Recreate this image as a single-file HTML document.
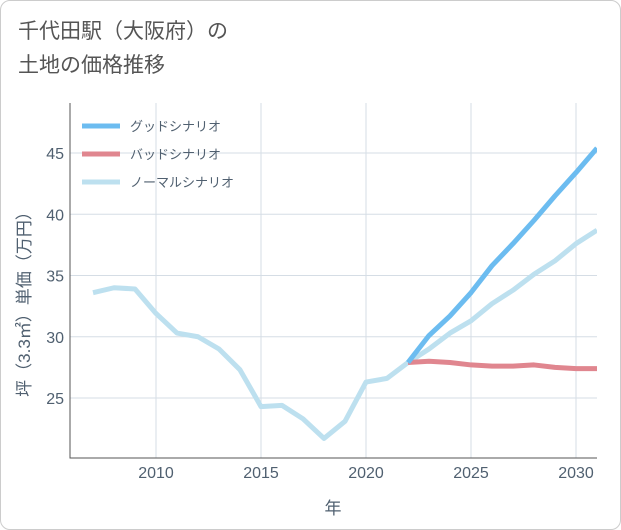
<!DOCTYPE html>
<html><head><meta charset="utf-8"><style>
body{margin:0;background:#fff;font-family:"Liberation Sans","Noto Sans CJK JP",sans-serif}
#wrap{position:relative;width:619px;height:528px;border:1px solid #ccc;border-radius:10px;overflow:hidden}
#title{position:absolute;left:17px;top:14px;font-size:21px;line-height:34px;color:#555}
</style></head><body>
<div id="wrap">
<div id="title">千代田駅（大阪府）の<br>土地の価格推移</div>
<svg id="c" width="621" height="530" style="position:absolute;left:-1px;top:-1px"></svg>
</div>
<script>
const years=[2007,2008,2009,2010,2011,2012,2013,2014,2015,2016,2017,2018,2019,2020,2021,2022];
const hist=[33.6,34.0,33.9,31.9,30.3,30.0,29.0,27.3,24.3,24.4,23.3,21.7,23.1,26.3,26.6,27.9];
const fYears=[2022,2023,2024,2025,2026,2027,2028,2029,2030,2031];
const good=[27.9,30.1,31.7,33.6,35.8,37.6,39.5,41.5,43.4,45.4];
const bad=[27.9,28.0,27.9,27.7,27.6,27.6,27.7,27.5,27.4,27.4];
const normal=[27.9,29.0,30.3,31.3,32.7,33.8,35.1,36.2,37.6,38.7];
const xTicks=[2010,2015,2020,2025,2030];
const yTicks=[25,30,35,40,45];
const L=70,R=597,T=103,B=458;
const x=v=>156+(v-2010)*21;
const y=v=>398-(v-25)*12.25;
const svg=document.getElementById('c');
const NS='http://www.w3.org/2000/svg';
function mk(t,a,p){const e=document.createElementNS(NS,t);for(const k in a)e.setAttribute(k,a[k]);(p||svg).appendChild(e);return e;}
const clip=mk('clipPath',{id:'cp'});mk('rect',{x:L,y:T,width:R-L,height:B-T},clip);
xTicks.forEach(v=>{const l=mk('line',{x1:x(v),x2:x(v),y1:T,y2:B,stroke:'#d5dde5'});
const t=mk('text',{x:x(v),y:478,'text-anchor':'middle','font-size':16,fill:'#506070'});t.textContent=v;});
yTicks.forEach(v=>{const l=mk('line',{x1:L,x2:R,y1:y(v),y2:y(v),stroke:'#d5dde5'});
const t=mk('text',{x:64,y:y(v)+6,'text-anchor':'end','font-size':16,fill:'#506070'});t.textContent=v;});
const ax=mk('path',{d:`M${L} ${T}V${B}H${R}`,fill:'none',stroke:'#555','stroke-width':1});
function line(xs,ys,col,name){const d=xs.map((v,i)=>(i?'L':'M')+x(v)+' '+y(ys[i])).join('');const p=mk('path',{d,fill:'none',stroke:col,'stroke-width':5,'stroke-linejoin':'round','clip-path':'url(#cp)'});}
line(years,hist,'#bde0ef','history-line');
line(fYears,normal,'#bde0ef','normal-line');
line(fYears,bad,'#e0868f','bad-line');
line(fYears,good,'#6cbcf0','good-line');
[['グッドシナリオ','#6cbcf0',126],['バッドシナリオ','#e0868f',154],['ノーマルシナリオ','#bde0ef',182]].forEach((e,i)=>{
const l=mk('line',{x1:82,x2:120,y1:e[2],y2:e[2],stroke:e[1],'stroke-width':5});
const t=mk('text',{x:130,y:e[2]+5,'font-size':13,fill:'#506070'});t.textContent=e[0];});
const xt=mk('text',{x:333,y:514,'text-anchor':'middle','font-size':17,fill:'#506070'});xt.textContent='年';
const yt=mk('text',{x:0,y:0,'text-anchor':'middle','font-size':17,fill:'#506070',transform:'translate(30,300) rotate(-90)'});yt.textContent='坪（3.3㎡）単価（万円）';
</script>
</body></html>
